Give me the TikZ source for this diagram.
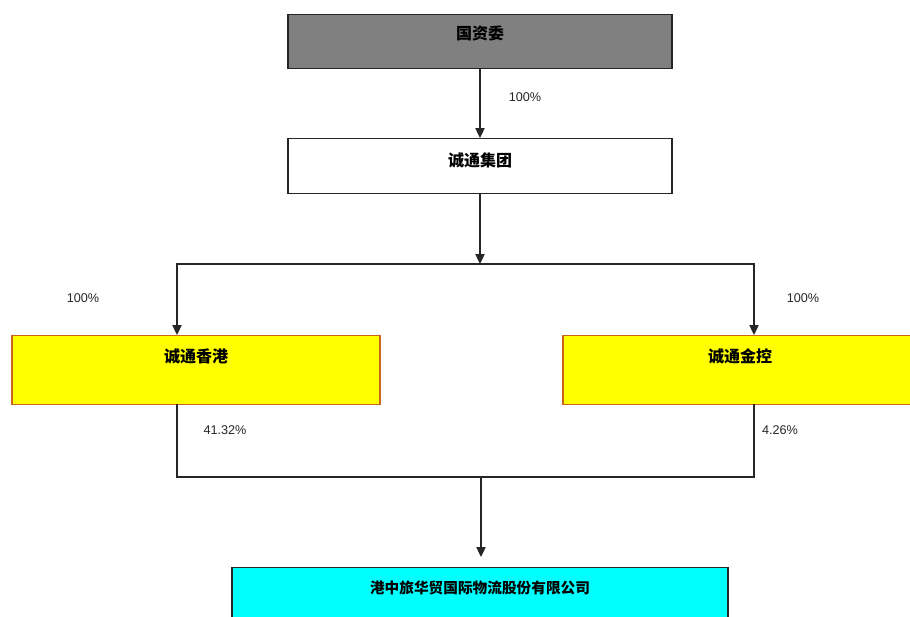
\documentclass[tikz,border=0pt]{standalone}
\usepackage{fontspec}
\setmainfont{Liberation Sans}
\newfontfamily\cjk{Noto Sans CJK SC}
\usetikzlibrary{arrows.meta}
\definecolor{gzwgray}{HTML}{808080}
\definecolor{ybox}{HTML}{FFFF00}
\definecolor{yborder}{HTML}{C8641E}
\definecolor{cbox}{HTML}{00FFFF}
\begin{document}
\begin{tikzpicture}[x=0.75pt,y=-0.75pt,
  line/.style={draw=black!85, line width=0.9pt},
  arr/.style={line, -{Triangle[width=7pt,length=7.5pt]}},
  pct/.style={font=\fontsize{9.5pt}{11pt}\selectfont, text=black!85, inner sep=0},
  box/.style={draw=black!85, line width=0.9pt, inner sep=0, anchor=north,
    font=\cjk\bfseries\fontsize{12pt}{14pt}\selectfont}]
\useasboundingbox (0,0) rectangle (910,617);
\clip (0,0) rectangle (910,617);

\node[box, fill=gzwgray, minimum width=288pt, text height=18.65pt, text depth=21.85pt] (gzw) at (480,14) {国资委};
\node[box, fill=white, minimum width=288pt, text height=20.9pt, text depth=20.35pt] (ct) at (480,138) {诚通集团};
\node[box, fill=ybox, draw=yborder, minimum width=276pt, text height=20.15pt, text depth=31.6pt] (xg) at (196,335) {诚通香港};
\node[box, fill=ybox, draw=yborder, minimum width=265.5pt, text height=20.15pt, text depth=31.6pt] (jk) at (740,335) {诚通金控};
\node[box, fill=cbox, minimum width=372pt, text height=19.4pt, text depth=27.85pt,
  font=\cjk\bfseries\fontsize{11pt}{13pt}\selectfont] (hz) at (480,567) {港中旅华贸国际物流股份有限公司};

\coordinate (split) at (480,264);
\coordinate (xgin) at (177,335);
\coordinate (jkin) at (754,335);
\coordinate (xgout) at (177,404);
\coordinate (jkout) at (754,404);
\coordinate (merge) at (481,477);

\draw[arr] (gzw.south) -- (ct.north);
\draw[arr] (ct.south) -- (split);
\draw[arr] (split) -| (xgin);
\draw[arr] (split) -| (jkin);
\draw[line] (xgout) |- (merge);
\draw[line] (jkout) |- (merge);
\draw[arr, shorten >=7.5pt] (merge) -- (merge |- hz.north);

\node[pct] (p1) at (525,97) {100\%};
\node[pct] (p2) at (83,298) {100\%};
\node[pct] (p3) at (803,298) {100\%};
\node[pct] (p4) at (225,430) {41.32\%};
\node[pct] (p5) at (780,430) {4.26\%};
\end{tikzpicture}
\end{document}
